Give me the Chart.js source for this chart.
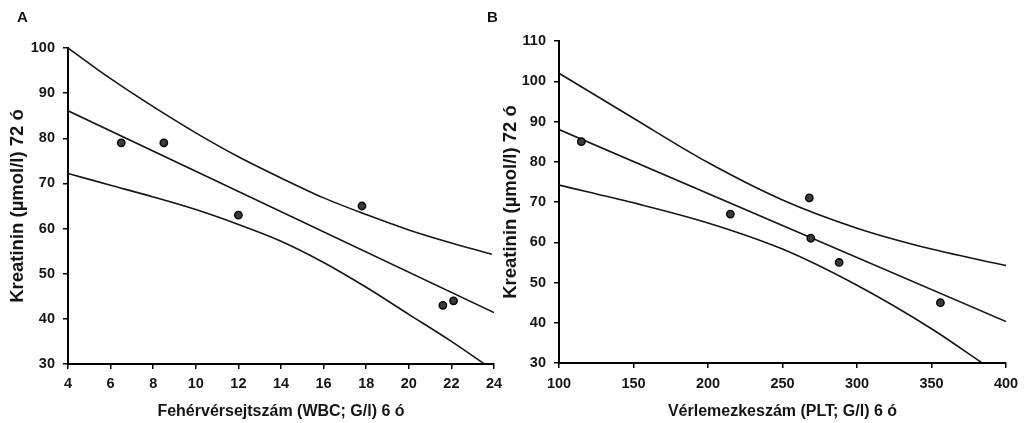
<!DOCTYPE html>
<html>
<head>
<meta charset="utf-8">
<script src="https://cdn.jsdelivr.net/npm/chart.js@4.4.1/dist/chart.umd.min.js"></script>
<style>
  html, body { margin: 0; padding: 0; background: #fff; }
  #wrap { position: relative; width: 1027px; height: 423px; overflow: hidden; }
  .panel { position: absolute; top: 0; height: 423px; }
  .letter { position: absolute; top: 9px; font: bold 15px "Liberation Sans", Arial, sans-serif; color: #111; line-height: 1; }
</style>
</head>
<body>
<div id="wrap">
  <div class="panel" style="left:0;width:510px"><canvas id="chartA"></canvas></div>
  <div class="panel" style="left:485px;width:542px"><canvas id="chartB"></canvas></div>
  <div class="letter" style="left:17px">A</div>
  <div class="letter" style="left:487px">B</div>
</div>
<script>
// Panel A: WBC vs creatinine
const wbcX = [6.5, 8.5, 12.0, 17.8, 21.6, 22.1];
const wbcY = [79, 79, 63, 65, 43, 44];
const fitAX = [4, 24];
const fitAY = [86.1, 41.4];
const upperAX = [4, 6, 8, 10, 12, 14, 16, 18, 20, 22, 23.9];
const upperAY = [100, 93.2, 87.0, 81.2, 75.9, 71.2, 66.8, 63.1, 59.7, 56.8, 54.3];
const lowerAX = [4, 6, 8, 10, 12, 14, 16, 18, 20, 22, 23.55];
const lowerAY = [72.2, 69.6, 67.0, 64.2, 60.9, 57.2, 52.5, 47.0, 41.0, 35.0, 30];

// Panel B: PLT vs creatinine
const pltX = [115, 215, 268, 269, 288, 356];
const pltY = [85, 67, 71, 61, 55, 45];
const fitBX = [100, 400];
const fitBY = [88.0, 40.3];
const upperBX = [100, 150, 200, 250, 300, 350, 400];
const upperBY = [102.0, 90.8, 79.8, 70.5, 63.5, 58.3, 54.2];
const lowerBX = [100, 150, 200, 250, 300, 350, 384];
const lowerBY = [74.2, 69.8, 64.8, 58.3, 49.3, 38.5, 30];

const yTitle = 'Kreatinin (µmol/l) 72 ó';
const xTitleA = 'Fehérvérsejtszám (WBC; G/l) 6 ó';
const xTitleB = 'Vérlemezkeszám (PLT; G/l) 6 ó';

const FONT = '"Liberation Sans", Arial, sans-serif';
const INK = '#151515';

const toXY = (xs, ys) => xs.map((x, i) => ({ x: x, y: ys[i] }));

function lineSet(xs, ys) {
  return {
    data: toXY(xs, ys),
    showLine: true,
    pointRadius: 0,
    borderColor: INK,
    borderWidth: 1.6,
    cubicInterpolationMode: 'monotone',
    fill: false
  };
}

function pointSet(xs, ys) {
  return {
    data: toXY(xs, ys),
    showLine: false,
    pointRadius: 3.7,
    pointBackgroundColor: '#3a3a3a',
    pointBorderColor: '#000',
    pointBorderWidth: 1.4
  };
}

function axis(min, max, step, title, opts) {
  return {
    type: 'linear',
    min: min,
    max: max,
    ticks: { stepSize: step, padding: opts.tickPad, color: INK, font: { family: FONT, size: 14.5, weight: 'bold' } },
    grid: { drawOnChartArea: false, drawTicks: true, tickLength: 5, color: '#000', lineWidth: 1.5 },
    border: { display: true, color: '#000', width: 2 },
    title: {
      display: true,
      text: title,
      color: INK,
      font: { family: FONT, size: opts.titleSize, weight: 'bold' },
      padding: opts.titlePad
    },
    afterFit: opts.fit
  };
}

function makeChart(id, sets, xAxis, yAxis, pad) {
  return new Chart(document.getElementById(id).getContext('2d'), {
    type: 'scatter',
    data: { datasets: sets },
    options: {
      responsive: true,
      maintainAspectRatio: false,
      animation: false,
      layout: { padding: pad },
      plugins: { legend: { display: false }, tooltip: { enabled: false } },
      scales: { x: xAxis, y: yAxis }
    }
  });
}

makeChart('chartA',
  [pointSet(wbcX, wbcY), lineSet(fitAX, fitAY), lineSet(upperAX, upperAY), lineSet(lowerAX, lowerAY)],
  axis(4, 24, 2, xTitleA, { tickPad: 6, titleSize: 16, titlePad: { top: 0, bottom: 2 }, fit: s => { s.height = 59; } }),
  axis(30, 100, 10, yTitle, { tickPad: 8, titleSize: 18.5, titlePad: { top: 7, bottom: 0 }, fit: s => { s.width = 68; } }),
  { top: 48, right: 16, bottom: 0, left: 0 });

makeChart('chartB',
  [pointSet(pltX, pltY), lineSet(fitBX, fitBY), lineSet(upperBX, upperBY), lineSet(lowerBX, lowerBY)],
  axis(100, 400, 50, xTitleB, { tickPad: 7, titleSize: 16, titlePad: { top: 0, bottom: 2 }, fit: s => { s.height = 60; } }),
  axis(30, 110, 10, yTitle, { tickPad: 8, titleSize: 18.5, titlePad: { top: 15, bottom: 0 }, fit: s => { s.width = 74; } }),
  { top: 41, right: 21, bottom: 0, left: 0 });
</script>
</body>
</html>
